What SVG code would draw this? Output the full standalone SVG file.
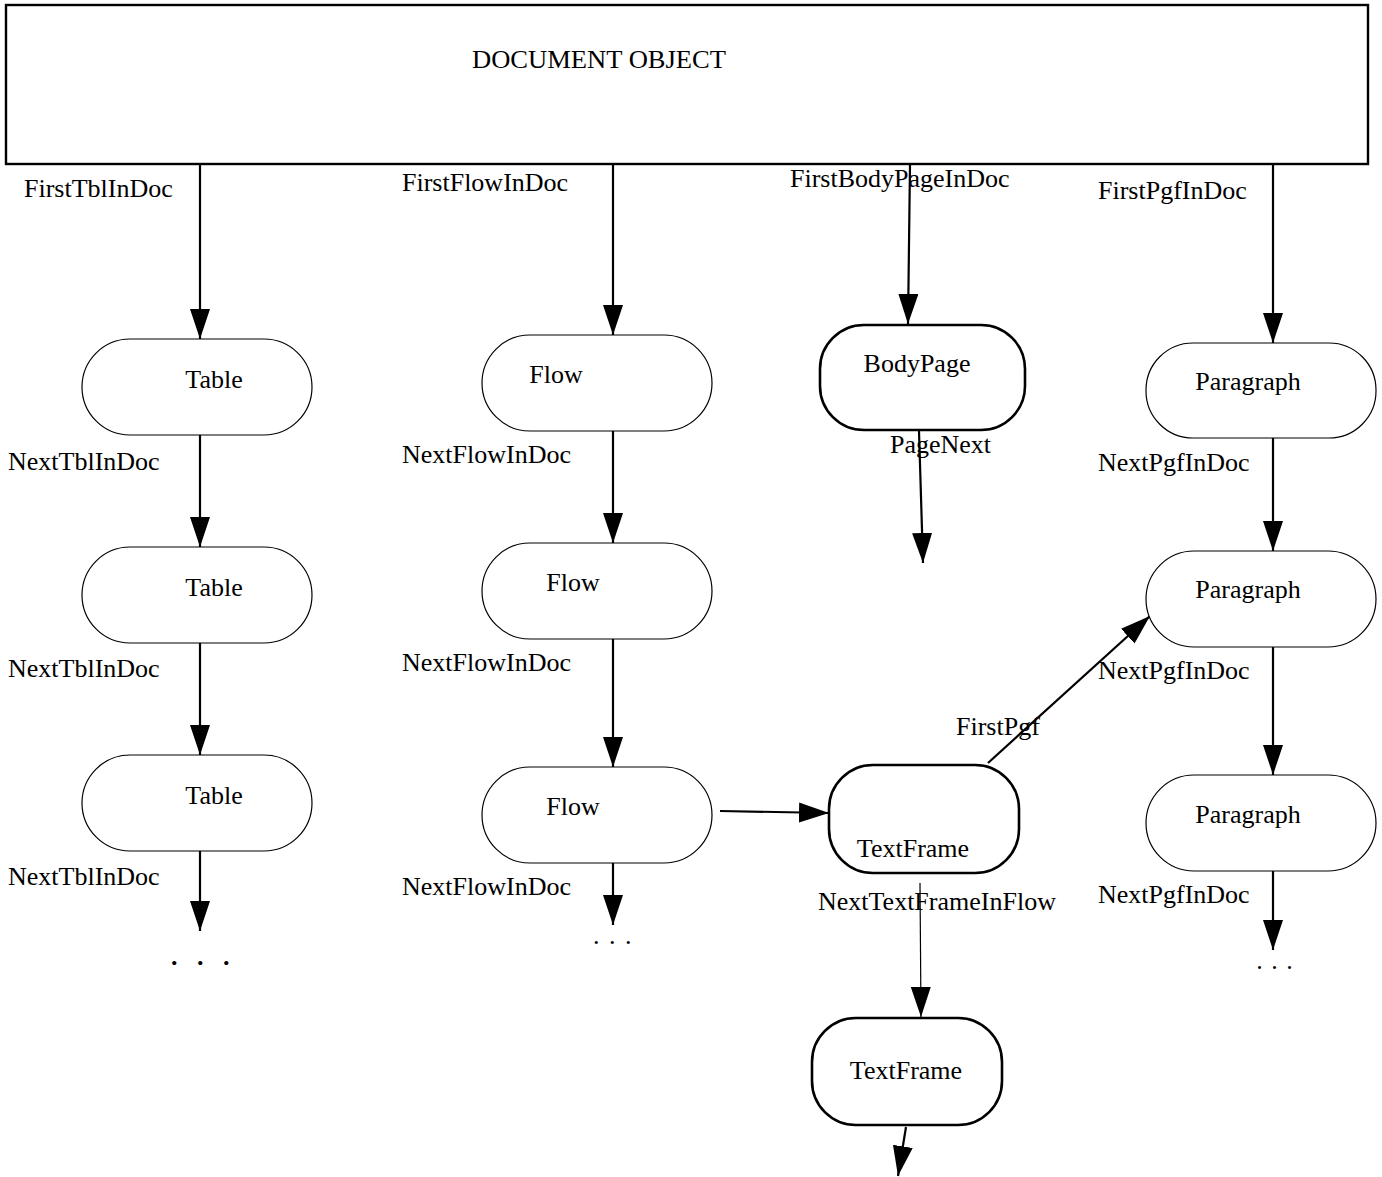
<svg xmlns="http://www.w3.org/2000/svg" width="1382" height="1177" viewBox="0 0 1382 1177">
<style>
text{font-family:"Liberation Serif","Times New Roman",serif;font-size:26px;fill:#000}
.thin{fill:#fff;stroke:#000;stroke-width:1.2}
.thick{fill:#fff;stroke:#000;stroke-width:2.6}
.doc{fill:#fff;stroke:#000;stroke-width:2.4}
.c{fill:none;stroke:#000;stroke-width:2.2}
.c1{fill:none;stroke:#000;stroke-width:1.2}
.mid{text-anchor:middle}
</style>
<defs>
<marker id="ah" markerUnits="userSpaceOnUse" markerWidth="32" markerHeight="22" refX="30" refY="10" orient="auto">
<path d="M0,0 L30,10 L0,20 z" fill="#000"/>
</marker>
</defs>
<rect width="1382" height="1177" fill="#fff"/>
<g id="document">
<rect class="doc" x="6" y="5" width="1362" height="159"/>
<text x="472" y="68" textLength="254" lengthAdjust="spacingAndGlyphs">DOCUMENT OBJECT</text>
</g>
<g id="connectors">
<line class="c" x1="200" y1="165" x2="200" y2="339" marker-end="url(#ah)"/>
<line class="c" x1="200" y1="435" x2="200" y2="547" marker-end="url(#ah)"/>
<line class="c" x1="200" y1="643" x2="200" y2="755" marker-end="url(#ah)"/>
<line class="c" x1="200" y1="851" x2="200" y2="931" marker-end="url(#ah)"/>
<line class="c" x1="613" y1="165" x2="613" y2="335" marker-end="url(#ah)"/>
<line class="c" x1="613" y1="431" x2="613" y2="543" marker-end="url(#ah)"/>
<line class="c" x1="613" y1="638" x2="613" y2="767" marker-end="url(#ah)"/>
<line class="c" x1="613" y1="863" x2="613" y2="925" marker-end="url(#ah)"/>
<line class="c" x1="910" y1="165" x2="908" y2="324" marker-end="url(#ah)"/>
<line class="c" x1="919" y1="431" x2="923" y2="563" marker-end="url(#ah)"/>
<line class="c" x1="1273" y1="165" x2="1273" y2="343" marker-end="url(#ah)"/>
<line class="c" x1="1273" y1="438" x2="1273" y2="551" marker-end="url(#ah)"/>
<line class="c" x1="1273" y1="647" x2="1273" y2="775" marker-end="url(#ah)"/>
<line class="c" x1="1273" y1="871" x2="1273" y2="950" marker-end="url(#ah)"/>
<line class="c" x1="720" y1="811" x2="829" y2="813" marker-end="url(#ah)"/>
<line class="c" x1="988" y1="763" x2="1150" y2="616" marker-end="url(#ah)"/>
<line class="c1" x1="920" y1="883" x2="921" y2="1017" marker-end="url(#ah)"/>
<line class="c" x1="906" y1="1127" x2="898" y2="1176" marker-end="url(#ah)"/>
</g>
<g id="labels">
<text x="24" y="197">FirstTblInDoc</text>
<text x="402" y="191">FirstFlowInDoc</text>
<text x="790" y="187">FirstBodyPageInDoc</text>
<text x="1098" y="199">FirstPgfInDoc</text>
<text x="8" y="470">NextTblInDoc</text>
<text x="8" y="677">NextTblInDoc</text>
<text x="8" y="885">NextTblInDoc</text>
<text x="402" y="463">NextFlowInDoc</text>
<text x="402" y="671">NextFlowInDoc</text>
<text x="402" y="895">NextFlowInDoc</text>
<text x="890" y="453">PageNext</text>
<text x="1098" y="471">NextPgfInDoc</text>
<text x="1098" y="679">NextPgfInDoc</text>
<text x="1098" y="903">NextPgfInDoc</text>
<text x="956" y="735">FirstPgf</text>
<text x="818" y="910">NextTextFrameInFlow</text>
<text x="171 197 223" y="965" style="font-weight:bold">...</text>
<text x="613" y="944" class="mid" letter-spacing="1.5">. . .</text>
<text x="1275" y="969" class="mid" letter-spacing="1">. . .</text>
</g>
<g id="table1"><rect class="thin" x="82" y="339" width="230" height="96" rx="48"/><text x="214" y="388" class="mid">Table</text></g>
<g id="table2"><rect class="thin" x="82" y="547" width="230" height="96" rx="48"/><text x="214" y="596" class="mid">Table</text></g>
<g id="table3"><rect class="thin" x="82" y="755" width="230" height="96" rx="48"/><text x="214" y="804" class="mid">Table</text></g>
<g id="flow1"><rect class="thin" x="482" y="335" width="230" height="96" rx="48"/><text x="556" y="383" class="mid">Flow</text></g>
<g id="flow2"><rect class="thin" x="482" y="543" width="230" height="96" rx="48"/><text x="573" y="591" class="mid">Flow</text></g>
<g id="flow3"><rect class="thin" x="482" y="767" width="230" height="96" rx="48"/><text x="573" y="815" class="mid">Flow</text></g>
<g id="bodypage"><rect class="thick" x="820" y="325" width="205" height="105" rx="44"/><text x="917" y="372" class="mid">BodyPage</text></g>
<g id="paragraph1"><rect class="thin" x="1146" y="343" width="230" height="95" rx="47"/><text x="1248" y="390" class="mid">Paragraph</text></g>
<g id="paragraph2"><rect class="thin" x="1146" y="551" width="230" height="96" rx="48"/><text x="1248" y="598" class="mid">Paragraph</text></g>
<g id="paragraph3"><rect class="thin" x="1146" y="775" width="230" height="96" rx="48"/><text x="1248" y="823" class="mid">Paragraph</text></g>
<g id="textframe1"><rect class="thick" x="829" y="765" width="190" height="108" rx="44"/><text x="913" y="857" class="mid">TextFrame</text></g>
<g id="textframe2"><rect class="thick" x="812" y="1018" width="190" height="107" rx="44"/><text x="906" y="1079" class="mid">TextFrame</text></g>
</svg>
